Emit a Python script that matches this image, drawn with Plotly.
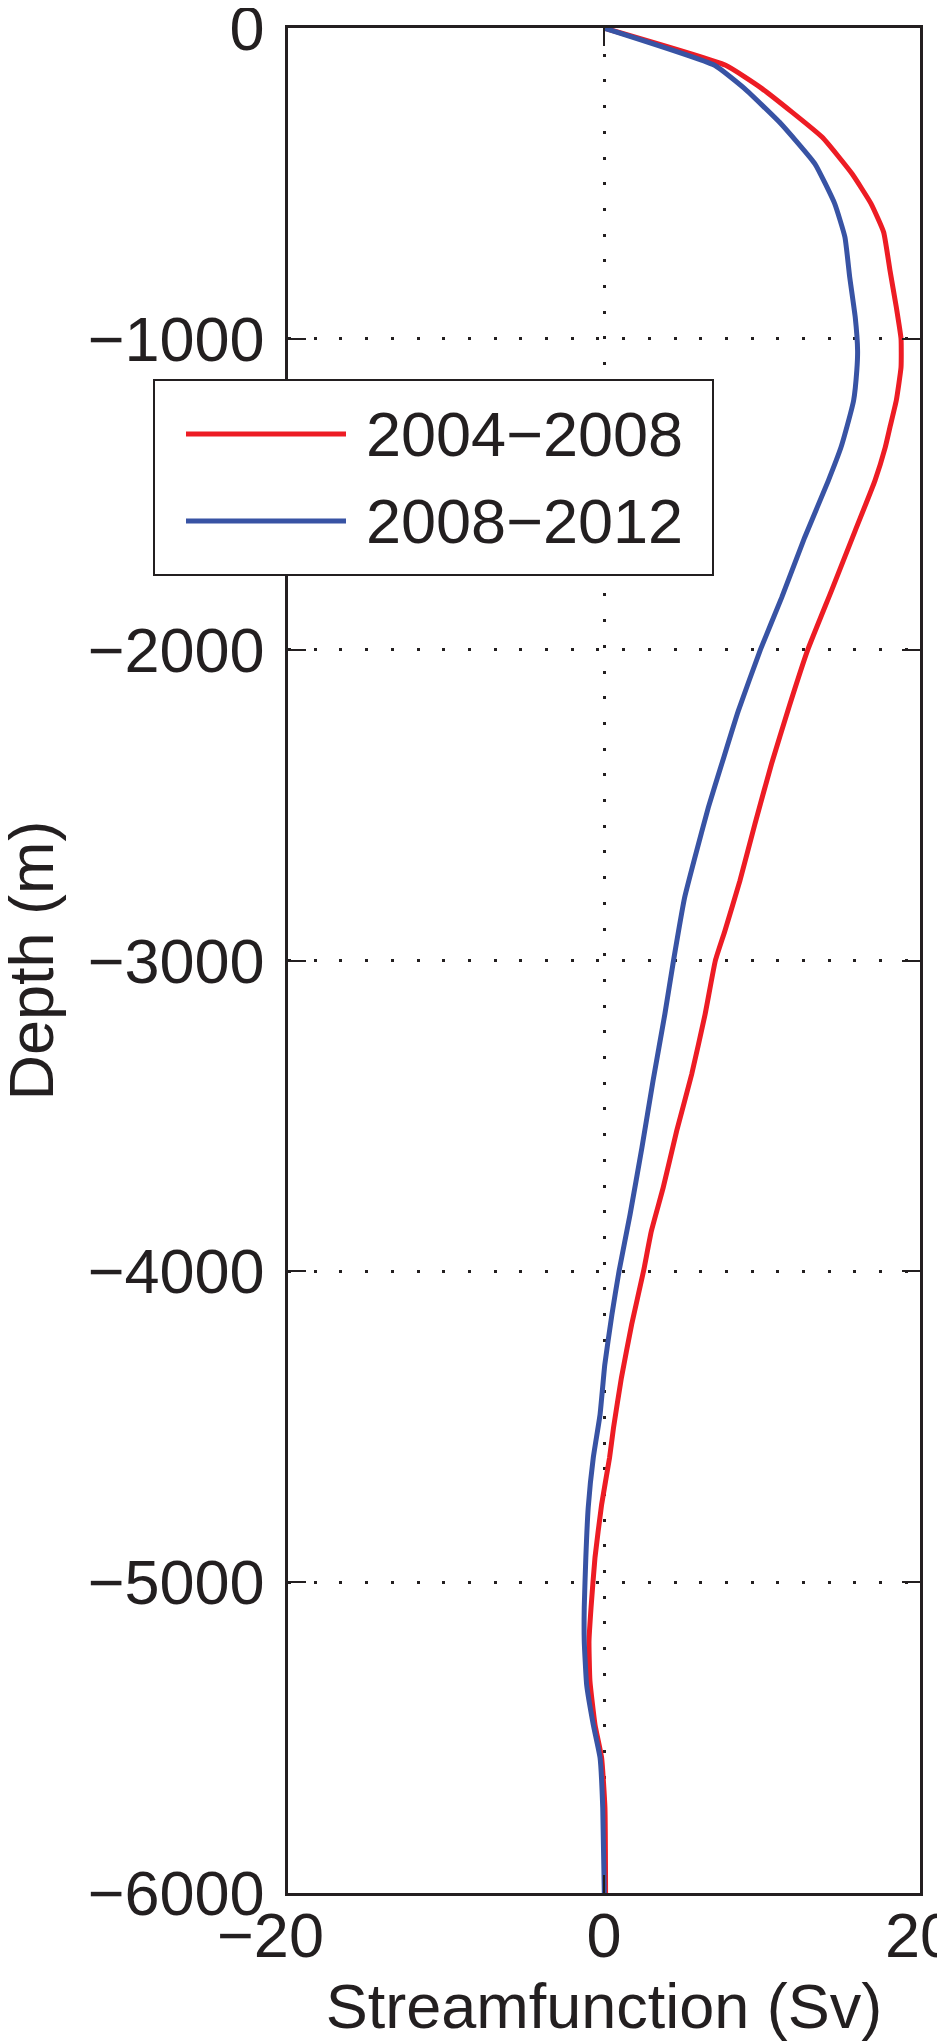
import plotly.graph_objects as go

# depth (m) and streamfunction (Sv)
depth_0408 = [0, -120, -195, -351, -469, -565, -657, -780, -898, -1000, -1091, -1198,
              -1284, -1349, -1456, -1617, -1810, -2000, -2186, -2368, -2561, -2744,
              -2905, -3000, -3173, -3366, -3548, -3730, -3870, -4000, -4171, -4343,
              -4504, -4600, -4750, -4921, -5082, -5190, -5318, -5458, -5565, -5726, -6000]
psi_0408 = [0, 7.7, 10.0, 13.8, 15.7, 16.9, 17.7, 18.1, 18.5, 18.8, 18.8, 18.5,
            18.1, 17.8, 17.15, 15.9, 14.4, 12.9, 11.7, 10.6, 9.55, 8.6,
            7.65, 7.05, 6.4, 5.55, 4.6, 3.75, 3.0, 2.5, 1.75, 1.1,
            0.6, 0.35, -0.15, -0.57, -0.82, -0.95, -0.89, -0.57, -0.15, 0.06, 0.1]

depth_0812 = [0, -120, -195, -308, -437, -565, -673, -801, -930, -1038, -1102, -1198,
              -1306, -1349, -1456, -1639, -1832, -2000, -2197, -2368, -2508, -2669,
              -2798, -3000, -3173, -3388, -3602, -3817, -4000, -4139, -4300, -4461,
              -4600, -4761, -4921, -5082, -5190, -5329, -5458, -5565, -5726, -6000]
psi_0812 = [0, 7.0, 8.9, 11.2, 13.35, 14.6, 15.25, 15.55, 15.9, 16.05, 16.0, 15.8,
            15.25, 15.0, 14.2, 12.7, 11.25, 9.9, 8.5, 7.45, 6.6, 5.75,
            5.1, 4.4, 3.85, 3.1, 2.4, 1.65, 0.95, 0.5, 0.05, -0.25,
            -0.68, -1.0, -1.15, -1.25, -1.25, -1.1, -0.68, -0.25, -0.08, 0.02]

series_names = ['2004\u22122008', '2008\u22122012']
series_colors = ['#ED1C24', '#3853A4']

x_ticks = [-20, 0, 20]
x_tick_labels = ['\u221220', '0', '20']
y_ticks = [-6000, -5000, -4000, -3000, -2000, -1000, 0]

INK = '#231F20'
FONT = 'Liberation Sans'
W, H = 945, 2044
ML, MR, MT, MB = 280, 33, 20, 159


def px2paper(px, py):
    # pixel position in the page -> paper coordinates of the plot area
    return (px - ML) / (W - ML - MR), (H - MB - py) / (H - MT - MB)


fig = go.Figure()
for xs, ys, name, color in [(psi_0408, depth_0408, series_names[0], series_colors[0]),
                            (psi_0812, depth_0812, series_names[1], series_colors[1])]:
    fig.add_trace(go.Scatter(x=xs, y=ys, mode='lines', name=name, showlegend=False,
                             line=dict(color=color, width=5, shape='spline', smoothing=0.4)))

axis_style = dict(showline=True, linecolor=INK, linewidth=2.5, mirror='ticks',
                  ticks='inside', ticklen=18, tickwidth=2, tickcolor=INK,
                  showgrid=True, gridcolor=INK, gridwidth=3, griddash='3px,22.7px',
                  zeroline=False, ticklabeloverflow='allow', automargin=False,
                  tickfont=dict(size=63, color=INK, family=FONT))

# the original centres the digits, so the minus sign hangs to the left
x_text = [t + '\u00a0\u00a0' if t.startswith('\u2212') else t for t in x_tick_labels]
fig.update_xaxes(range=[-20, 20], tickvals=x_ticks, ticktext=x_text, ticklabelstandoff=-14,
                 title=dict(text='Streamfunction (Sv)', font=dict(size=63, color=INK, family=FONT)),
                 **axis_style)
fig.update_yaxes(range=[-6000, 0], tickvals=y_ticks, ticklabelstandoff=8, **axis_style)

# y title as a rotated annotation so it can sit right at the page edge
tx, ty = px2paper(22, 952)
fig.add_annotation(xref='paper', yref='paper', x=tx, y=0.5, text='Depth (m)', textangle=-90,
                   showarrow=False, xanchor='center', yanchor='middle',
                   font=dict(size=63, color=INK, family=FONT))

# legend box drawn by hand to match the original's proportions
bx0, by0 = px2paper(146, 567)
bx1, by1 = px2paper(705, 372)
fig.add_shape(type='rect', xref='paper', yref='paper', x0=bx0, y0=by0, x1=bx1, y1=by1,
              line=dict(color=INK, width=2), fillcolor='white', layer='above')
for i, (name, color) in enumerate(zip(series_names, series_colors)):
    row_y = 426 + 87 * i
    lx0, ly = px2paper(178, row_y)
    lx1, _ = px2paper(338, row_y)
    tx, _ = px2paper(356, row_y)
    fig.add_shape(type='line', xref='paper', yref='paper', x0=lx0, y0=ly, x1=lx1, y1=ly,
                  line=dict(color=color, width=5), layer='above')
    fig.add_annotation(xref='paper', yref='paper', x=tx, y=ly, text=name, showarrow=False,
                       xanchor='left', yanchor='middle',
                       font=dict(size=63, color=INK, family=FONT))

fig.update_layout(
    width=W, height=H,
    margin=dict(l=ML, r=MR, t=MT, b=MB),
    paper_bgcolor='white', plot_bgcolor='white',
    font=dict(family=FONT, color=INK),
    showlegend=False,
)

fig.write_html("out.html")
